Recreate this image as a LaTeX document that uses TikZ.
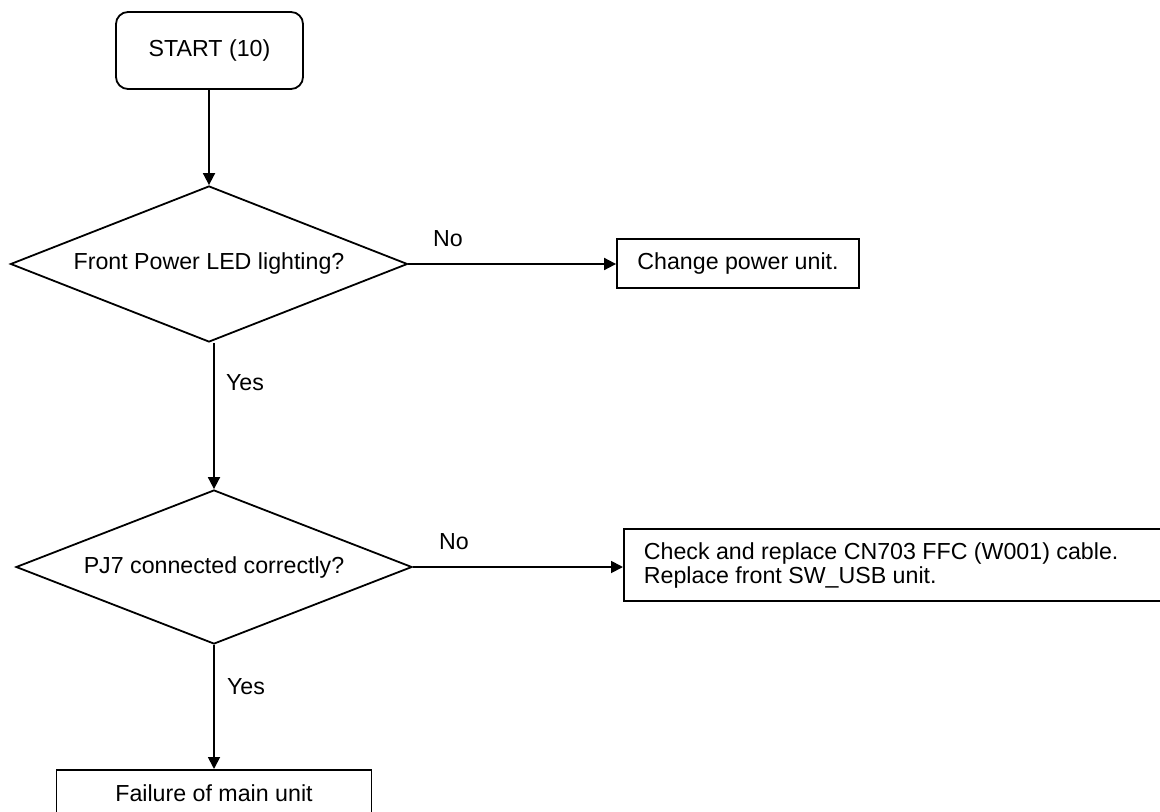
\documentclass[tikz,border=0pt]{standalone}
\usepackage{fontspec}
\setmainfont{Liberation Sans}
\usetikzlibrary{shapes.geometric,arrows.meta}
\begin{document}
\begin{tikzpicture}[x=0.5pt,y=-0.5pt,
  font=\fontsize{11.6}{12}\selectfont, line width=0.9pt,
  box/.style={draw, rectangle, inner sep=0pt},
  decision/.style={draw, diamond, inner sep=0pt, shape aspect=2.55},
  arr/.style={-{Triangle[length=6pt,width=6pt]}},
  lbl/.style={inner sep=0pt}]
\path[use as bounding box] (0,0) rectangle (1160,812);
\clip (0,0) rectangle (1160,812);
\node[box, rounded corners=6pt, minimum width=93.5pt, minimum height=38.5pt] (start) at (209.5,50.5) {START (10)};
\node[decision, minimum width=198.5pt, minimum height=78pt] (d1) at (209,264) {Front Power LED lighting?};
\node[box, minimum width=121pt, minimum height=24.5pt] (b1) at (738,263.5) {Change power unit.};
\node[decision, minimum width=198pt, minimum height=77pt] (d2) at (214,567) {PJ7 connected correctly?};
\node[box, anchor=west, minimum height=36pt, align=flush left, text width=290pt, inner xsep=10pt] (b2) at (623,565) {Check and replace CN703 FFC (W001) cable.\\Replace front SW\_USB unit.};
\node[box, anchor=north, minimum width=157.5pt, minimum height=23pt] (b3) at (214,769) {Failure of main unit};
\draw[arr] (start.south -| d1.north) -- (d1.north);
\draw[arr] (d1.east) -- (d1.east -| b1.west);
\draw[arr] (d1.south -| d2.north) -- (d2.north);
\draw[arr] (d2.east) -- (d2.east -| b2.west);
\draw[arr] (d2.south) -- (b3.north);
\node[lbl] (no1) at (448,239) {No};
\node[lbl] (yes1) at (245,383) {Yes};
\node[lbl] (no2) at (454,542) {No};
\node[lbl] (yes2) at (246,687) {Yes};
\end{tikzpicture}
\end{document}
